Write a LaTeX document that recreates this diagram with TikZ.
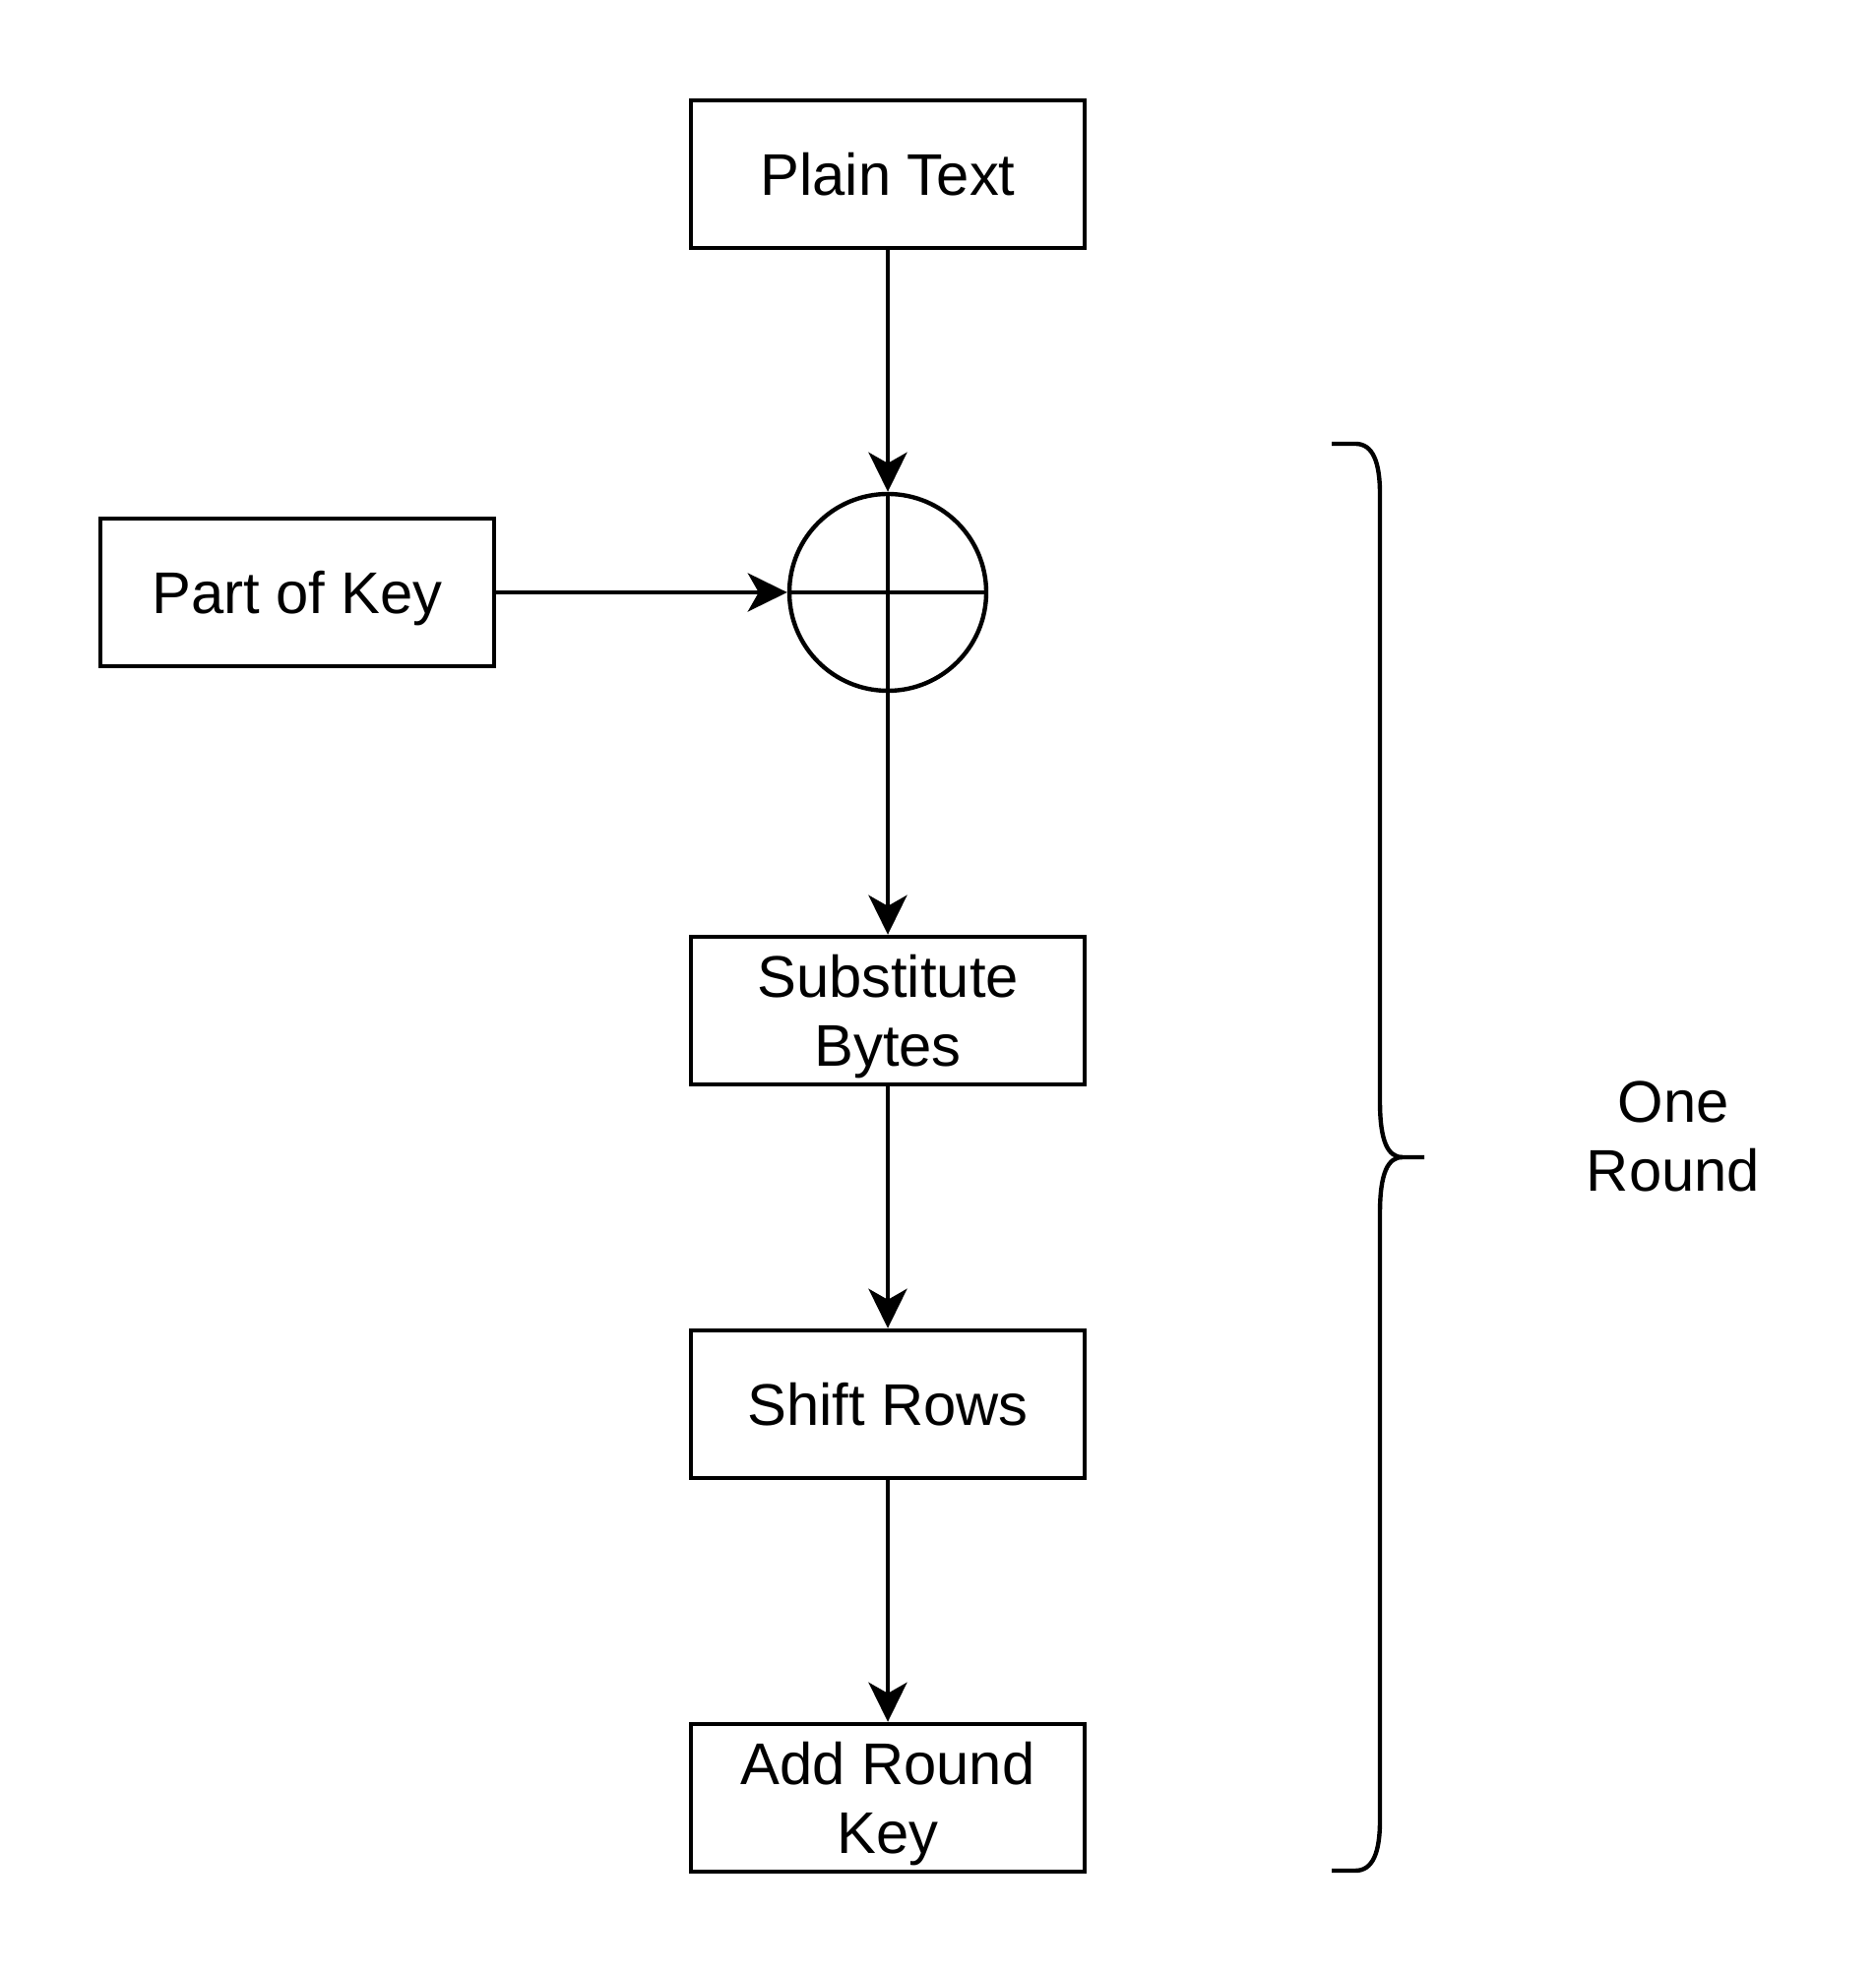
\documentclass[tikz,border=0pt]{standalone}
\usepackage{fontspec}
\setmainfont{Liberation Sans}
\usepackage{tikz}
\usetikzlibrary{arrows.meta}

\begin{document}
\begin{tikzpicture}[
        block/.style={rectangle, draw=black, line width=2.5pt, minimum width=8cm, minimum height=3cm, align=center, inner sep=0pt, text depth=0pt},
        xorop/.style={circle, draw=black, line width=2.5pt, minimum size=4cm, inner sep=0pt},
        >={Stealth[length=0.8cm, width=0.78cm, inset=0.22cm]},
        font=\fontsize{34}{39.5}\selectfont,
        line width=2.5pt,
        ]
        \useasboundingbox (0,0) rectangle (38.1,40.1);

        \node (addkey) at (18.04,3.56) [block] {Add Round\\Key};
        \node (shiftrows) at (18.04,11.56) [block] {Shift Rows}
            edge [->] (addkey);
        \node (subbytes) at (18.04,19.56) [block] {Substitute\\Bytes}
            edge [->] (shiftrows);
        \node (xor) at (18.04,28.06) [xorop] {}
            edge [->] (subbytes);
        \draw (xor.north) -- (xor.south) (xor.west) -- (xor.east);
        \node (plain) at (18.04,36.56) [block] {Plain Text}
            edge [->] (xor);
        \node (key) at (6.04,28.06) [block] {Part of Key}
            edge [->] (xor);

        % brace over the round
        \draw (27.06,31.08) -- (27.54,31.08) .. controls (27.9,31.08) and (28.04,30.7) .. (28.04,30.06)
            -- (28.04,17.72) .. controls (28.04,16.9) and (28.2,16.58) .. (28.5,16.58) -- (28.94,16.58);
        \draw (28.5,16.58) .. controls (28.2,16.58) and (28.04,16.26) .. (28.04,15.44)
            -- (28.04,3.1) .. controls (28.04,2.46) and (27.9,2.08) .. (27.54,2.08) -- (27.06,2.08);
        \node (round) at (34.0,17.0) [align=center] {One\\Round};

\end{tikzpicture}
\end{document}
